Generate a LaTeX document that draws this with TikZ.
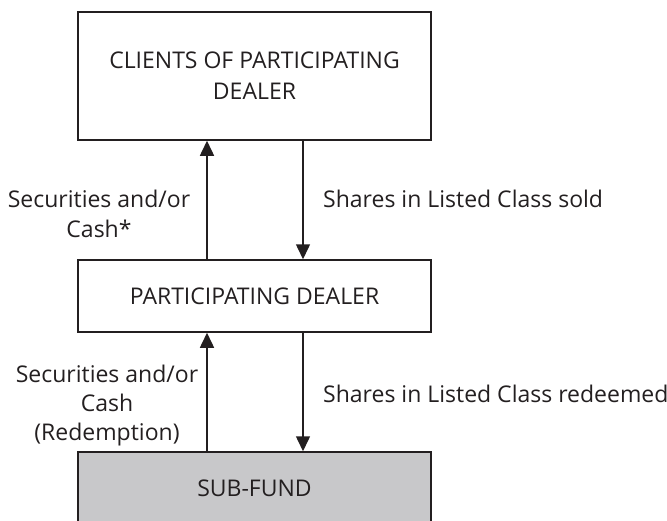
\documentclass[tikz,border=0pt]{standalone}
\usepackage{fontspec}
\setmainfont{Open Sans}
\usetikzlibrary{arrows.meta}
\definecolor{txt}{RGB}{35,31,32}
\definecolor{fundgray}{RGB}{200,200,202}
\begin{document}
\begin{tikzpicture}[x=1pt,y=-1pt,
  box/.style={draw=txt,line width=1.5pt,rectangle,minimum width=353pt,inner sep=0pt,
    font=\fontsize{23}{31}\selectfont,text=txt,align=center},
  lbl/.style={font=\fontsize{23}{30}\selectfont,text=txt,align=center,inner sep=0pt},
  arr/.style={draw=txt,line width=1.5pt,-{Triangle[length=15pt,width=14pt]}}]
\useasboundingbox (0,0) rectangle (667,520);
\node[box,minimum height=128pt] (clients) at (254.5,76) {CLIENTS OF PARTICIPATING\\DEALER};
\node[box,minimum height=72pt] (dealer) at (254.5,296) {PARTICIPATING DEALER};
\node[box,minimum height=73pt,fill=fundgray] (fund) at (254.5,488.5) {SUB-FUND};
\coordinate (lx) at (207,0);
\coordinate (rx) at (303,0);
\draw[arr] (dealer.north -| lx) -- (clients.south -| lx);
\draw[arr] (clients.south -| rx) -- (dealer.north -| rx);
\draw[arr] (fund.north -| lx) -- (dealer.south -| lx);
\draw[arr] (dealer.south -| rx) -- (fund.north -| rx);
\node[lbl,anchor=base] (l1) at (99,237) {Securities and/or\\Cash*};
\node[lbl,anchor=base west] (r1) at (323,207) {Shares in Listed Class sold};
\node[lbl,anchor=base,font=\fontsize{23}{29}\selectfont] (l2) at (107,440) {Securities and/or\\Cash\\(Redemption)};
\node[lbl,anchor=base west] (r2) at (323,402) {Shares in Listed Class redeemed};
\end{tikzpicture}
\end{document}
